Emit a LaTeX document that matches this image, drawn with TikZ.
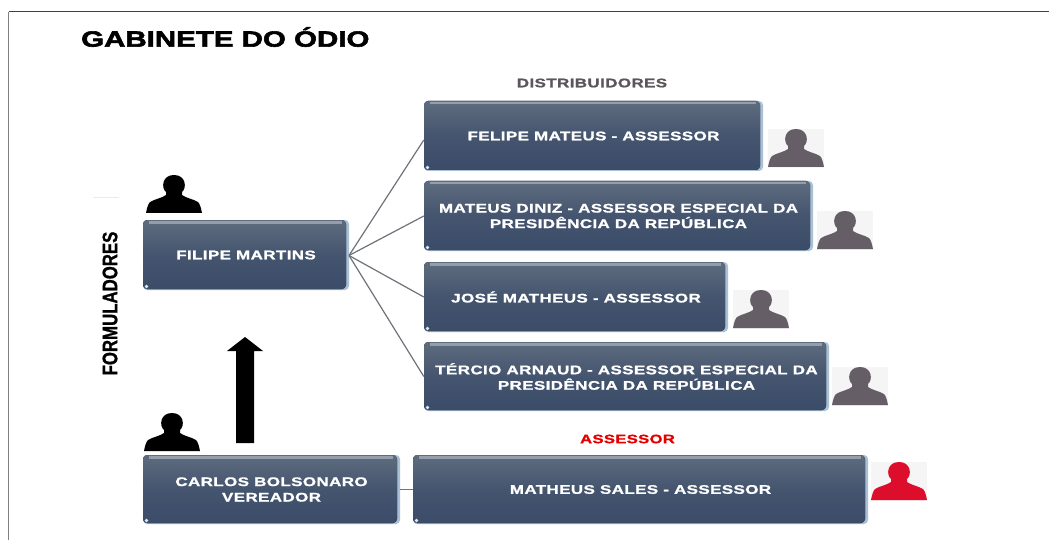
\documentclass[tikz,border=0pt]{standalone}
\usepackage{fontspec}
\setmainfont{Liberation Sans}
\newfontfamily\wideb[FakeStretch=1.36,LetterSpace=3,FakeBold=1.2]{Liberation Sans Bold}
\newfontfamily\titleb[FakeStretch=1.34,FakeBold=2.6]{Liberation Sans Bold}
\newfontfamily\narrowb[FakeStretch=0.8,FakeBold=1]{Liberation Sans Bold}
\definecolor{boxtop}{HTML}{5E6C7E}
\definecolor{boxbot}{HTML}{3B4C69}
\definecolor{boxedge}{HTML}{A9C0D6}
\definecolor{conn}{HTML}{6E727A}
\definecolor{persongrey}{HTML}{665E66}
\definecolor{personred}{HTML}{DC0E2C}
\definecolor{iconbg}{HTML}{F5F5F5}
\tikzset{
  boxbase/.style={rounded corners=4pt,draw=none,fill=boxedge},
  boxface/.style={rounded corners=4pt,top color=boxtop,bottom color=boxbot,middle color=boxbot!72!boxtop},
  boxnode/.style={inner sep=0pt,align=center,text=white,font=\wideb\fontsize{12.5}{15.5}\selectfont},
  conline/.style={draw=conn,line width=1.2pt},
  person/.pic={
    \fill[pic actions] (0,38) .. controls (1,33) and (2,29) .. (4,27)
      .. controls (9,24) and (16,23) .. (20,20) -- (20,17)
      .. controls (15,13) and (16,0) .. (28,0)
      .. controls (40,0) and (41,13) .. (36,17) -- (36,20)
      .. controls (40,23) and (47,24) .. (52,27)
      .. controls (54,29) and (55,33) .. (56,38) -- cycle;
  },
  pics/iconbox/.style={code={\fill[iconbg] (0,0) rectangle (56,39);\pic[fill=#1] {person};}}
}
% x0,y0,x1,y1,name,text
\newcommand{\bxnode}[6]{%
  \fill[boxbase] (#1,#2) rectangle (#3,#4);
  \fill[boxface] (#1,#2) rectangle (#3-3,#4-1);
  \fill[white,opacity=.35] (#1+6,#2+1) rectangle (#3-7,#2+3.5);
  \fill[white,opacity=.85] (#1+3.5,#4-3.5) circle (1.8);
  \node[boxnode,minimum width=#3-#1,minimum height=#4-#2] (#5) at ({(#1+#3)/2},{(#2+#4)/2}) {#6};
}
\begin{document}
\begin{tikzpicture}[x=1pt,y=-1pt]
\useasboundingbox (0,0) rectangle (1049,540);
\draw[draw=black!75,line width=1pt] (1049,12) -- (8.5,12);
\draw[draw=black!50,line width=1.4pt] (8.5,12) -- (8.5,540);
\draw[black!8,line width=.6pt] (93,197) -- (119,197);

\node[anchor=west,inner sep=0pt,font=\titleb\fontsize{22}{24}\selectfont] (title) at (81,37) {GABINETE DO ÓDIO};
\node[inner sep=0pt,text=persongrey!90!black,font=\wideb\fontsize{12.5}{13}\selectfont] (dist) at (592,83) {DISTRIBUIDORES};
\node[inner sep=0pt,text=red!90!black,font=\wideb\fontsize{12.2}{13}\selectfont] (asse) at (627.5,439) {ASSESSOR};
\node[rotate=90,inner sep=0pt,font=\narrowb\fontsize{21}{23}\selectfont] (form) at (110,303.5) {FORMULADORES};

\bxnode{143}{220}{349}{290}{filipe}{FILIPE MARTINS}
\bxnode{424}{101}{763}{171}{felipe}{FELIPE MATEUS - ASSESSOR}
\bxnode{424}{181}{813}{251}{diniz}{MATEUS DINIZ - ASSESSOR ESPECIAL DA\\PRESIDÊNCIA DA REPÚBLICA}
\bxnode{424}{262}{728}{332}{jose}{JOSÉ MATHEUS - ASSESSOR}
\bxnode{424}{342}{829}{411}{tercio}{TÉRCIO ARNAUD - ASSESSOR ESPECIAL DA\\PRESIDÊNCIA DA REPÚBLICA}
\bxnode{143}{455}{400}{524}{carlos}{CARLOS BOLSONARO\\VEREADOR}
\bxnode{413}{455}{868}{524}{sales}{MATHEUS SALES - ASSESSOR}

\coordinate (hub) at (349,255.5);
\draw[conline] (hub) -- ([yshift=-4pt]felipe.west);
\draw[conline] (hub) -- (diniz.west);
\draw[conline] (hub) -- (jose.west);
\draw[conline] (hub) -- (tercio.west);
\draw[conline] (carlos.east) -- (sales.west);

\coordinate (arrowfoot) at (245,443);
\coordinate (arrowtip) at (245,337);
\fill[black] (arrowfoot) ++(-9,0) -- ++(0,-92) -- ++(-9,0) -- (arrowtip) -- ++(18,14) -- ++(-9,0) -- ++(0,92) -- cycle;

\pic[fill=black] at (146,175) {person};
\pic[fill=black] at (144,413) {person};
\pic at (768,129) {iconbox=persongrey};
\pic at (817,211) {iconbox=persongrey};
\pic at (733,290) {iconbox=persongrey};
\pic at (832,367) {iconbox=persongrey};
\pic at (871,462) {iconbox=personred};
\end{tikzpicture}
\end{document}
